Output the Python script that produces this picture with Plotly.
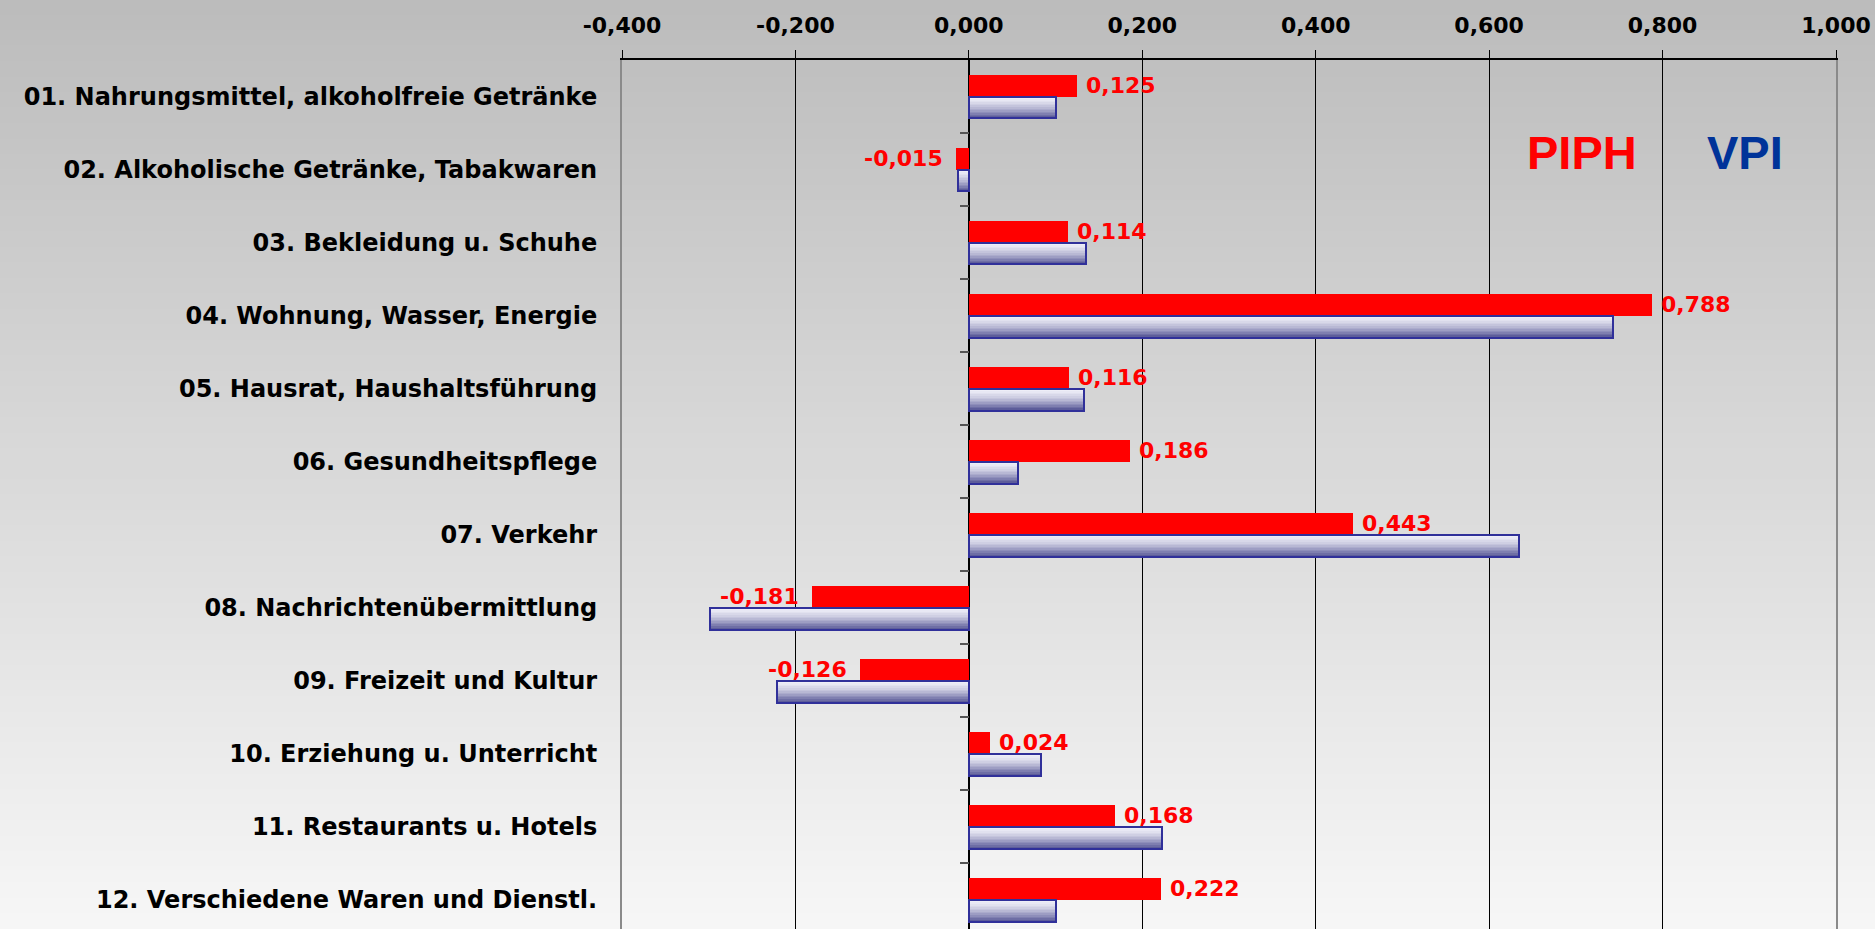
import plotly.graph_objects as go

# Beitrag zur Inflation: PIPH vs. VPI
categories = [
    "01. Nahrungsmittel, alkoholfreie Getränke",
    "02. Alkoholische Getränke, Tabakwaren",
    "03. Bekleidung u. Schuhe",
    "04. Wohnung, Wasser, Energie",
    "05. Hausrat, Haushaltsführung",
    "06. Gesundheitspflege",
    "07. Verkehr",
    "08. Nachrichtenübermittlung",
    "09. Freizeit und Kultur",
    "10. Erziehung u. Unterricht",
    "11. Restaurants u. Hotels",
    "12. Verschiedene Waren und Dienstl.",
]
piph = [0.125, -0.015, 0.114, 0.788, 0.116, 0.186, 0.443, -0.181, -0.126, 0.024, 0.168, 0.222]
vpi = [0.100, -0.012, 0.135, 0.743, 0.133, 0.057, 0.634, -0.299, -0.221, 0.083, 0.223, 0.100]
x_ticks = [-0.4, -0.2, 0.0, 0.2, 0.4, 0.6, 0.8, 1.0]
x_ticktext = ["-0,400", "-0,200", "0,000", "0,200", "0,400", "0,600", "0,800", "1,000"]

pos = list(range(len(categories)))
font_lbl = "DejaVu Sans"
bar_w = 0.3

fig = go.Figure()

# PIPH - rote Balken (oben)
fig.add_trace(go.Bar(x=piph, y=pos, orientation='h', base=0,
                     width=bar_w, offset=-bar_w,
                     marker=dict(color='#ff0000', line=dict(width=0)),
                     hoverinfo='skip', showlegend=False))

# VPI - Verlauf hell -> dunkelblau, in Streifen
n = 14
top = (242, 242, 250)
bot = (84, 84, 148)
for k in range(n):
    t = (k + 0.5) / n
    t = t ** 1.6
    c = tuple(round(top[j] + (bot[j] - top[j]) * t) for j in range(3))
    fig.add_trace(go.Bar(x=vpi, y=pos, orientation='h', base=0,
                         width=bar_w / n + 0.002, offset=k * bar_w / n,
                         marker=dict(color='rgb(%d,%d,%d)' % c, line=dict(width=0)),
                         hoverinfo='skip', showlegend=False))

fig.add_trace(go.Bar(x=vpi, y=pos, orientation='h', base=0,
                     width=bar_w, offset=0,
                     marker=dict(color='rgba(0,0,0,0)', line=dict(color='#30309a', width=2)),
                     hoverinfo='skip', showlegend=False))

# Hilfsspur fuer die Achse bei x=0
fig.add_trace(go.Scatter(x=[0], y=[0], yaxis='y2', mode='markers',
                         marker=dict(opacity=0), hoverinfo='skip', showlegend=False))

# Werte-Beschriftung PIPH
for i, v in enumerate(piph):
    txt = f"{v:.3f}".replace('.', ',')
    fig.add_annotation(x=v, y=i - bar_w / 2, text=txt, showarrow=False,
                       xanchor='left' if v >= 0 else 'right',
                       xshift=7 if v >= 0 else -11,
                       font=dict(family=font_lbl, size=22, color='#ff0000', weight='bold'))

fig.add_annotation(x=0.791, y=0.894, xref='paper', yref='paper', text="PIPH",
                   xanchor='center', yanchor='middle',
                   showarrow=False, font=dict(family="Liberation Sans, Arial", size=47,
                                              color='#ff0000', weight='bold'))
fig.add_annotation(x=0.925, y=0.894, xref='paper', yref='paper', text="VPI",
                   xanchor='center', yanchor='middle',
                   showarrow=False, font=dict(family="Liberation Sans, Arial", size=47,
                                              color='#003399', weight='bold'))

# grauer Hintergrundverlauf
bands = 60
for b in range(bands):
    g = round(188 + (246 - 188) * (b + 0.5) / bands)
    y_top = 1.0695 - b * 1.0695 / bands
    y_bot = 1.0695 - (b + 1) * 1.0695 / bands
    fig.add_shape(type='rect', xref='paper', yref='paper', x0=-0.52, x1=1.04,
                  y0=y_bot - 0.001, y1=y_top + 0.001, layer='below',
                  fillcolor='rgb(%d,%d,%d)' % (g, g, g), line=dict(width=0))

yrange = [11.4, -0.5]
fig.update_layout(
    width=1875, height=929,
    margin=dict(l=622, r=39, t=60, b=0),
    paper_bgcolor='#bcbcbc', plot_bgcolor='rgba(0,0,0,0)',
    barmode='overlay',
    bargap=0,
    xaxis=dict(side='top', range=[-0.4, 1.0], tickvals=x_ticks, ticktext=x_ticktext,
               ticks='outside', ticklen=8, tickcolor='#000', tickwidth=1,
               showline=True, linecolor='#000', linewidth=1.5,
               showgrid=True, gridcolor='#000', gridwidth=1,
               zeroline=True, zerolinecolor='#000', zerolinewidth=1.5,
               ticklabelstandoff=8,
               tickfont=dict(family=font_lbl, size=22, color='#000', weight='bold')),
    yaxis=dict(range=yrange, tickvals=pos, ticktext=categories, ticks='',
               showline=True, linecolor='#8a8a8a', linewidth=2, mirror=True,
               showgrid=False, zeroline=False, ticklabelstandoff=18,
               tickfont=dict(family=font_lbl, size=24, color='#000', weight='bold')),
    yaxis2=dict(overlaying='y', anchor='free', position=0.4 / 1.4, range=yrange,
                tickvals=[p + 0.5 for p in pos[:-1]], ticks='outside', ticklen=9,
                tickcolor='#555', tickwidth=2, showticklabels=False,
                showline=False, showgrid=False, zeroline=False),
)

fig.write_html("out.html", config={'displayModeBar': False},
               post_script="document.body.style.margin='0';document.body.style.overflow='hidden';")
